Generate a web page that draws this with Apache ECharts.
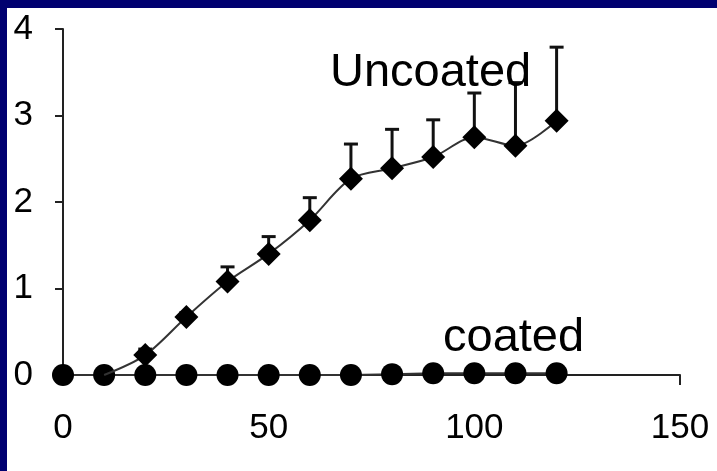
<!DOCTYPE html>
<html><head><meta charset="utf-8">
<script src="https://cdn.jsdelivr.net/npm/echarts@6/dist/echarts.min.js"></script>
<style>html,body{margin:0;padding:0;background:#fff}#c{width:717px;height:471px}</style>
</head><body><div id="c"></div>
<script>
const uncoatedX = [10, 20, 30, 40, 50, 60, 70, 80, 90, 100, 110, 120];
const uncoatedY = [0, 0.23, 0.67, 1.08, 1.40, 1.79, 2.27, 2.39, 2.52, 2.75, 2.65, 2.94];
const uncoatedErrTop = [null, 0.30, 0.72, 1.25, 1.60, 2.05, 2.67, 2.84, 2.95, 3.26, 3.38, 3.79];
const coatedX = [0, 10, 20, 30, 40, 50, 60, 70, 80, 90, 100, 110, 120];
const coatedY = [0, 0, 0, 0, 0, 0, 0, 0, 0.01, 0.02, 0.02, 0.02, 0.02];
const xTickLabels = [0, 50, 100, 150];
const yTickLabels = [0, 1, 2, 3, 4];
const seriesNames = ['Uncoated', 'coated'];

const chart = echarts.init(document.getElementById('c'));
const font = 'Liberation Sans, Arial, sans-serif';

const uncoatedData = uncoatedX.map((x, i) => i === 0 ? {value: [x, uncoatedY[i]], symbol: 'none'} : [x, uncoatedY[i]]);
const errData = uncoatedX.map((x, i) => [x, uncoatedY[i], uncoatedErrTop[i]]).filter(d => d[2] != null);

chart.setOption({
  animation: false,
  backgroundColor: '#fff',
  grid: {left: 63, right: 37, top: 29, bottom: 96},
  xAxis: {
    type: 'value', min: 0, max: 150, interval: 50,
    splitLine: {show: false},
    axisLine: {lineStyle: {color: '#222', width: 2}},
    axisTick: {show: true, customValues: [150], length: 10, lineStyle: {color: '#222', width: 2}},
    axisLabel: {customValues: xTickLabels, color: '#000', fontSize: 35, fontFamily: font, margin: 36}
  },
  yAxis: {
    type: 'value', min: 0, max: 4, interval: 1,
    splitLine: {show: false},
    axisLine: {show: true, lineStyle: {color: '#222', width: 2}},
    axisTick: {show: true, customValues: [1, 2, 3, 4], length: 8, lineStyle: {color: '#222', width: 2}},
    axisLabel: {customValues: yTickLabels, color: '#000', fontSize: 35, fontFamily: font, margin: 30}
  },
  series: [
    {
      type: 'custom', name: 'err', z: 1,
      data: errData,
      renderItem: function (params, api) {
        const p0 = api.coord([api.value(0), api.value(1)]);
        const p1 = api.coord([api.value(0), api.value(2)]);
        return {type: 'group', children: [
          {type: 'line', shape: {x1: p0[0], y1: p0[1], x2: p1[0], y2: p1[1]}, style: {stroke: '#111', lineWidth: 3}},
          {type: 'line', shape: {x1: p1[0] - 7, y1: p1[1], x2: p1[0] + 7, y2: p1[1]}, style: {stroke: '#111', lineWidth: 3}}
        ]};
      }
    },
    {
      type: 'line', name: seriesNames[1], z: 2,
      data: coatedX.map((x, i) => [x, coatedY[i]]),
      symbol: 'circle', symbolSize: 22,
      itemStyle: {color: '#000'},
      lineStyle: {color: '#333', width: 2}
    },
    {
      type: 'line', name: seriesNames[0], z: 3,
      data: uncoatedData, smooth: 0.3,
      symbol: 'diamond', symbolSize: 24,
      itemStyle: {color: '#000'},
      lineStyle: {color: '#333', width: 2}
    }
  ],
  graphic: [
    {type: 'rect', left: 0, top: 0, shape: {width: 717, height: 8}, style: {fill: '#000070'}, z: 100},
    {type: 'rect', left: 0, top: 0, shape: {width: 7, height: 471}, style: {fill: '#000070'}, z: 100},
    {type: 'text', left: 330, top: 50, style: {text: seriesNames[0], font: '47px ' + font, fill: '#000'}, z: 50},
    {type: 'text', left: 443, top: 315, style: {text: seriesNames[1], font: '47px ' + font, fill: '#000'}, z: 50}
  ]
});
</script></body></html>
